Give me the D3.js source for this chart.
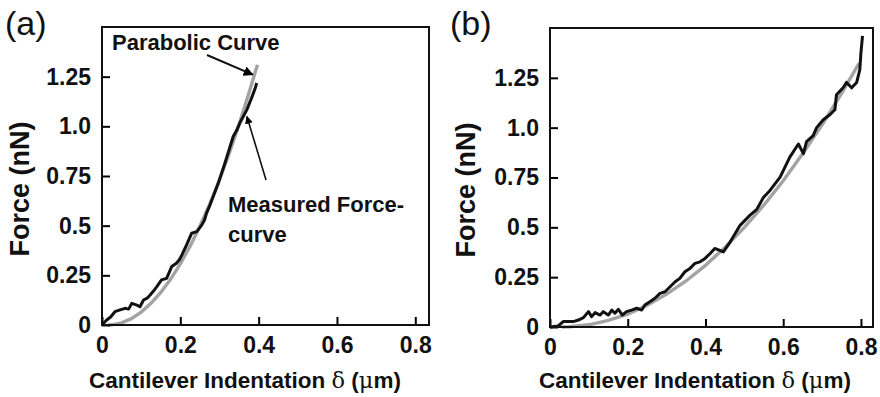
<!DOCTYPE html>
<html>
<head>
<meta charset="utf-8">
<script src="https://cdn.jsdelivr.net/npm/d3@7"></script>
<style>
  body { margin: 0; background: #fff; }
  svg { display: block; font-family: "Liberation Sans", Arial, sans-serif; }
</style>
</head>
<body>
<div id="chart"></div>
<script>
// tick values / labels
const xTicks = [0, 0.2, 0.4, 0.6, 0.8];
const xTickLabels = ["0", "0.2", "0.4", "0.6", "0.8"];
const yTicks = [0, 0.25, 0.5, 0.75, 1.0, 1.25];
const yTickLabels = ["0", "0.25", "0.5", "0.75", "1.0", "1.25"];

// panel (a) measured force curve
const aMeasuredX = [0, 0.012, 0.022, 0.033, 0.046, 0.059, 0.068, 0.076, 0.089, 0.097, 0.106, 0.115, 0.123, 0.132, 0.14, 0.152, 0.165, 0.178, 0.19, 0.198, 0.204, 0.216, 0.229, 0.242, 0.255, 0.262, 0.267, 0.276, 0.284, 0.297, 0.314, 0.335, 0.344, 0.352, 0.37, 0.382, 0.391, 0.395];
const aMeasuredY = [0, 0.025, 0.04, 0.067, 0.076, 0.084, 0.08, 0.109, 0.1, 0.092, 0.126, 0.135, 0.151, 0.172, 0.193, 0.227, 0.235, 0.294, 0.311, 0.33, 0.353, 0.403, 0.462, 0.47, 0.504, 0.53, 0.563, 0.605, 0.647, 0.714, 0.815, 0.949, 0.98, 1.017, 1.084, 1.143, 1.19, 1.218];
// panel (a) parabolic fit
const aParabolaX = [0.015, 0.025, 0.05, 0.075, 0.1, 0.125, 0.15, 0.175, 0.2, 0.225, 0.25, 0.275, 0.3, 0.325, 0.35, 0.375, 0.397];
const aParabolaY = [0, 0.001, 0.011, 0.032, 0.065, 0.109, 0.164, 0.23, 0.308, 0.397, 0.497, 0.608, 0.731, 0.865, 1.01, 1.166, 1.31];

// panel (b) measured force curve
const bMeasuredX = [0, 0.021, 0.034, 0.047, 0.06, 0.073, 0.086, 0.099, 0.107, 0.116, 0.129, 0.137, 0.15, 0.159, 0.167, 0.176, 0.186, 0.197, 0.21, 0.223, 0.236, 0.244, 0.257, 0.27, 0.283, 0.296, 0.309, 0.322, 0.334, 0.347, 0.36, 0.373, 0.386, 0.399, 0.412, 0.424, 0.446, 0.463, 0.489, 0.514, 0.532, 0.549, 0.566, 0.592, 0.617, 0.639, 0.652, 0.66, 0.677, 0.686, 0.703, 0.72, 0.733, 0.737, 0.754, 0.763, 0.776, 0.789, 0.797, 0.8, 0.804];
const bMeasuredY = [0, 0.005, 0.027, 0.027, 0.027, 0.035, 0.047, 0.077, 0.052, 0.072, 0.06, 0.077, 0.06, 0.085, 0.069, 0.089, 0.06, 0.077, 0.085, 0.094, 0.085, 0.11, 0.127, 0.144, 0.169, 0.177, 0.202, 0.227, 0.244, 0.277, 0.294, 0.319, 0.327, 0.344, 0.369, 0.394, 0.377, 0.425, 0.51, 0.56, 0.59, 0.65, 0.685, 0.752, 0.852, 0.918, 0.87, 0.93, 0.96, 1.0, 1.04, 1.065, 1.09, 1.165, 1.2, 1.227, 1.2, 1.227, 1.29, 1.377, 1.46];
// panel (b) parabolic fit
const bParabolaX = [0.03, 0.05, 0.1, 0.15, 0.2, 0.25, 0.3, 0.35, 0.4, 0.45, 0.5, 0.55, 0.6, 0.65, 0.7, 0.75, 0.795];
const bParabolaY = [0, 0.001, 0.011, 0.033, 0.065, 0.109, 0.165, 0.231, 0.309, 0.399, 0.5, 0.611, 0.734, 0.869, 1.014, 1.172, 1.323];

const width = 880, height = 397;

const svg = d3.select("#chart").append("svg")
  .attr("width", width)
  .attr("height", height);

svg.append("defs").append("marker")
  .attr("id", "arrow")
  .attr("viewBox", "0 0 10 10")
  .attr("refX", 9).attr("refY", 5)
  .attr("markerWidth", 5).attr("markerHeight", 5)
  .attr("orient", "auto")
  .append("path")
  .attr("d", "M0,0 L10,5 L0,10 z")
  .attr("fill", "#000");

function drawPanel(p) {
  const x = d3.scaleLinear().domain([0, p.xMax]).range([p.left, p.right]);
  const y = d3.scaleLinear().domain([0, 1.5]).range([p.bottom, p.top]);

  const g = svg.append("g");

  // parabola first (grey), then measured (black) on top
  const line = d3.line().x(d => x(d[0])).y(d => y(d[1]));
  g.append("path")
    .datum(p.fitX.map((v, i) => [v, p.fitY[i]]))
    .attr("d", line)
    .attr("fill", "none")
    .attr("stroke", "#a3a3a3")
    .attr("stroke-width", 3.4);
  g.append("path")
    .datum(p.measX.map((v, i) => [v, p.measY[i]]))
    .attr("d", line)
    .attr("fill", "none")
    .attr("stroke", "#111")
    .attr("stroke-width", 3)
    .attr("stroke-linejoin", "round");

  // axes, ticks pointing inward
  const xAxis = g.append("g")
    .attr("transform", `translate(0,${p.bottom})`)
    .call(d3.axisBottom(x).tickValues(xTicks)
      .tickFormat((d, i) => xTickLabels[i])
      .tickSize(-8).tickPadding(12));
  const yAxis = g.append("g")
    .attr("transform", `translate(${p.left},0)`)
    .call(d3.axisLeft(y).tickValues(yTicks)
      .tickFormat((d, i) => yTickLabels[i])
      .tickSize(-8).tickPadding(11));
  [xAxis, yAxis].forEach(a => {
    a.select(".domain").remove();
    a.selectAll(".tick line").attr("stroke", "#000").attr("stroke-width", 2);
    a.selectAll(".tick text")
      .attr("fill", "#111")
      .style("font", "bold 23px 'Liberation Sans', Arial, sans-serif");
  });

  // frame
  g.append("rect")
    .attr("x", p.left).attr("y", p.top)
    .attr("width", p.right - p.left).attr("height", p.bottom - p.top)
    .attr("fill", "none").attr("stroke", "#111").attr("stroke-width", 2);

  // axis titles
  const xt = g.append("text")
    .attr("x", p.xTitleX).attr("y", 388)
    .attr("text-anchor", "middle")
    .attr("fill", "#111")
    .style("font-size", "22.5px").style("font-weight", "bold");
  xt.append("tspan").text("Cantilever Indentation ");
  xt.append("tspan").style("font-family", "'DejaVu Serif', serif").style("font-weight", "normal").text("\u03b4");
  xt.append("tspan").text(" (");
  xt.append("tspan").style("font-family", "'DejaVu Serif', serif").style("font-weight", "normal").text("\u03bc");
  xt.append("tspan").text("m)");

  g.append("text")
    .attr("transform", `translate(${p.yTitleX},${p.yTitleY}) rotate(-90)`)
    .attr("text-anchor", "middle")
    .attr("fill", "#111")
    .style("font-size", "27px").style("font-weight", "bold")
    .text("Force (nN)");

  // panel letter
  g.append("text")
    .attr("x", p.letterX).attr("y", 35)
    .attr("fill", "#111")
    .style("font-size", "34px")
    .text(p.letter);

  return { x, y, g };
}

const pa = drawPanel({
  letter: "(a)", letterX: 5,
  left: 102, right: 429, top: 27, bottom: 325, xMax: 0.835,
  xTitleX: 245, yTitleX: 29, yTitleY: 189,
  measX: aMeasuredX, measY: aMeasuredY, fitX: aParabolaX, fitY: aParabolaY
});

drawPanel({
  letter: "(b)", letterX: 450,
  left: 550, right: 873, top: 28, bottom: 327, xMax: 0.831,
  xTitleX: 695, yTitleX: 475, yTitleY: 190,
  measX: bMeasuredX, measY: bMeasuredY, fitX: bParabolaX, fitY: bParabolaY
});

// annotations on panel (a)
const annStyle = t => t.attr("fill", "#111").style("font-size", "22px").style("font-weight", "bold");
pa.g.append("text").attr("x", 112).attr("y", 50).call(annStyle).text("Parabolic Curve");
pa.g.append("text").attr("x", 228).attr("y", 212).call(annStyle).text("Measured Force-");
pa.g.append("text").attr("x", 228).attr("y", 242).call(annStyle).text("curve");

pa.g.append("line")
  .attr("x1", 207).attr("y1", 55)
  .attr("x2", pa.x(0.385)).attr("y2", pa.y(1.26))
  .attr("stroke", "#111").attr("stroke-width", 2)
  .attr("marker-end", "url(#arrow)");
pa.g.append("line")
  .attr("x1", 266).attr("y1", 180)
  .attr("x2", pa.x(0.37)).attr("y2", pa.y(1.05))
  .attr("stroke", "#111").attr("stroke-width", 1.6)
  .attr("marker-end", "url(#arrow)");
</script>
</body>
</html>
